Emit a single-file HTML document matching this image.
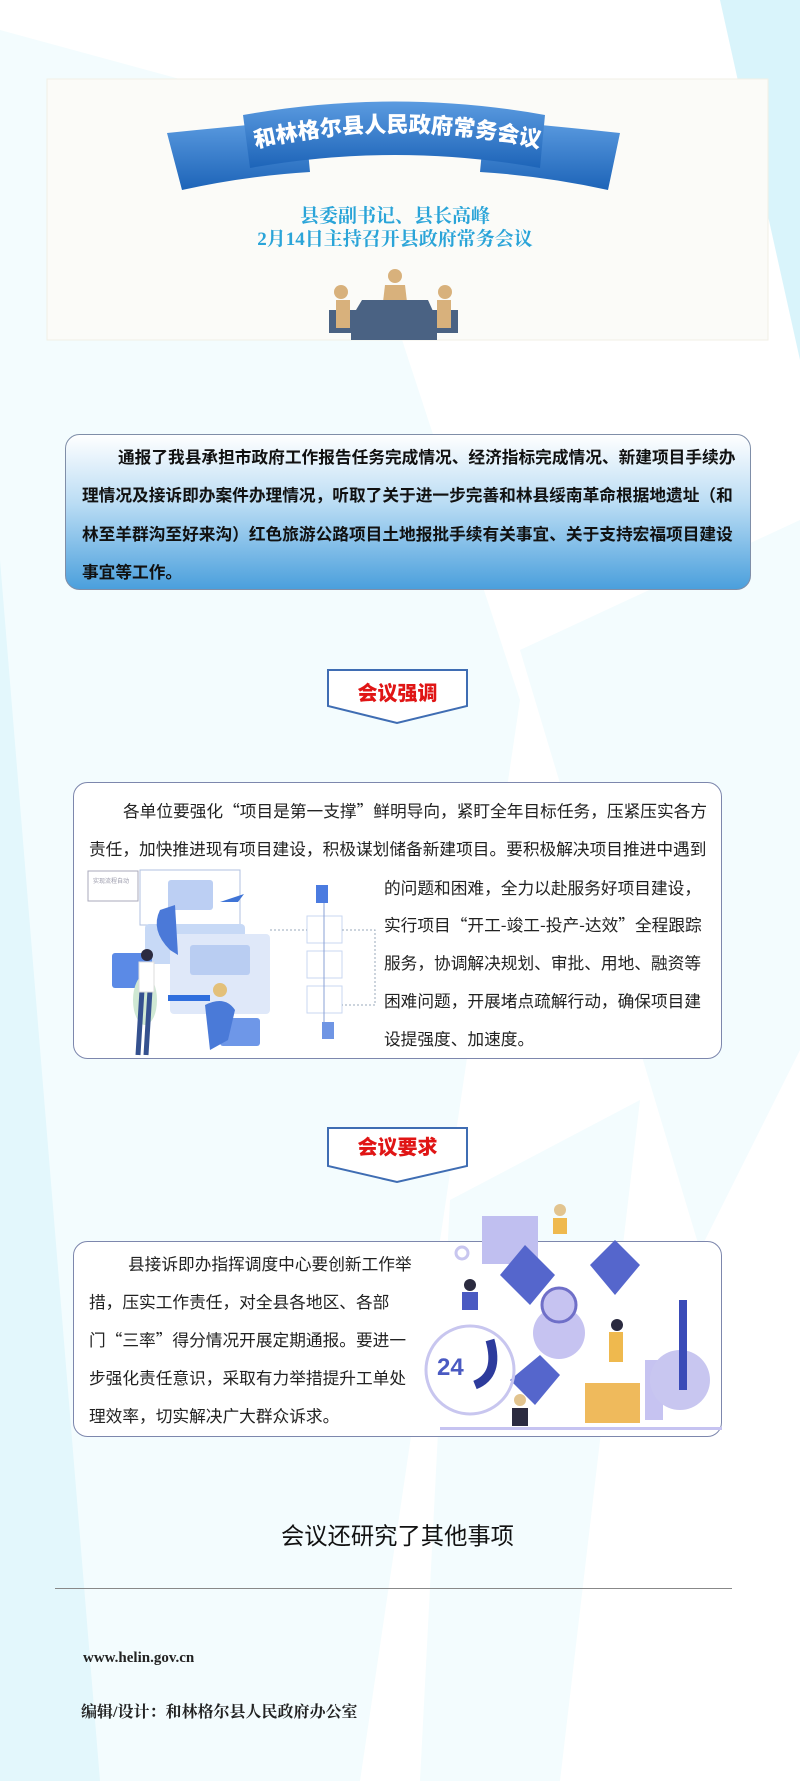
<!DOCTYPE html>
<html><head><meta charset="utf-8"><style>
*{margin:0;padding:0;box-sizing:border-box}
body{width:800px;height:1781px;position:relative;overflow:hidden;background:#fff;font-family:"Noto Sans CJK SC","Liberation Sans",sans-serif}
.a{position:absolute}
.t{position:absolute;font-size:16.7px;line-height:20px;white-space:nowrap;color:#222}
.b{font-weight:bold;color:#111}
.s{font-family:"Liberation Serif","Noto Serif CJK SC",serif}
</style></head><body>
<svg class="a" style="left:0;top:0" width="800" height="1781">
<polygon points="0,30 330,120 520,700 360,1781 0,1781" fill="#f3fcfe"/>
<polygon points="0,560 100,1781 0,1781" fill="#e3f7fc"/>
<polygon points="720,0 800,0 800,360" fill="#d9f4fb"/>
<polygon points="520,650 800,520 800,1050 700,1250" fill="#f3fcfe"/>
<polygon points="450,1200 640,1100 560,1781 420,1781" fill="#f3fcfe"/>
<rect x="47" y="79" width="721" height="261" fill="#fbfbf8" stroke="#f1efe6"/>
<defs><linearGradient id="rg" x1="0" y1="0" x2="0" y2="1"><stop offset="0" stop-color="#5b9be0"/><stop offset="1" stop-color="#1d64b8"/></linearGradient>
<linearGradient id="bg" x1="0" y1="0" x2="0" y2="1"><stop offset="0" stop-color="#ffffff"/><stop offset="0.45" stop-color="#b9dcf4"/><stop offset="1" stop-color="#4a9fdc"/></linearGradient></defs>
<path d="M167,133 Q235,126 305,120 L310,172 Q245,176 182,190 Z" fill="url(#rg)"/>
<path d="M620,133 Q555,126 485,120 L480,172 Q545,176 608,190 Z" fill="url(#rg)"/>
<path d="M243,115 Q395,88 545,115 L540,168 Q395,142 250,168 Z" fill="url(#rg)"/>
<path id="arc" d="M255,148 Q395,116 540,148" fill="none"/>
<text font-family="Noto Sans CJK SC,sans-serif" font-weight="900" font-size="22" fill="#fff"><textPath href="#arc" startOffset="50%" text-anchor="middle">和林格尔县人民政府常务会议</textPath></text>
<rect x="329" y="310" width="129" height="23" fill="#4a6283"/>
<circle cx="341" cy="292" r="7" fill="#d8b17c"/><rect x="336" y="300" width="14" height="28" fill="#d8b17c"/>
<circle cx="445" cy="292" r="7" fill="#d8b17c"/><rect x="437" y="300" width="14" height="28" fill="#d8b17c"/>
<circle cx="395" cy="276" r="7" fill="#d8b17c"/><polygon points="383,302 385,285 405,285 407,302" fill="#d8b17c"/>
<polygon points="362,300 428,300 437,320 350,320" fill="#4a6283"/>
<rect x="351" y="320" width="86" height="20" fill="#4a6283"/>
<rect x="65.5" y="434.5" width="685" height="155" rx="14" fill="url(#bg)" stroke="#7f8ea8"/>
<polygon points="328,670 467,670 467,706 397,723 328,706" fill="#fff" stroke="#3f6db3" stroke-width="2"/>
<polygon points="328,1128 467,1128 467,1166 397,1182 328,1166" fill="#fff" stroke="#3f6db3" stroke-width="2"/>
<rect x="73.5" y="782.5" width="648" height="276" rx="14" fill="#fff" stroke="#7d87ad"/>
<rect x="73.5" y="1241.5" width="648" height="195" rx="14" fill="#fff" stroke="#7d87ad"/>
<rect x="140" y="870" width="100" height="55" fill="#fff" stroke="#b0c2e0"/>
<rect x="145" y="924" width="100" height="40" rx="4" fill="#c7d9f6"/>
<rect x="170" y="934" width="100" height="80" rx="4" fill="#dfe8f9"/>
<rect x="190" y="945" width="60" height="30" rx="3" fill="#b9cdf2"/>
<rect x="168" y="995" width="42" height="6" fill="#2f6ede"/>
<rect x="168" y="880" width="45" height="30" rx="3" fill="#bccff3"/>
<rect x="112" y="953" width="40" height="35" rx="3" fill="#5b8ae6"/>
<rect x="220" y="1018" width="40" height="28" rx="3" fill="#6e97e8"/>
<rect x="88" y="871" width="50" height="30" fill="#fff" stroke="#aab"/>
<text x="93" y="883" font-size="6" fill="#99a">实现流程自动</text>
<path d="M170,950 Q150,930 160,910 L175,905 L178,955Z" fill="#4b79d8"/>
<ellipse cx="145" cy="1000" rx="12" ry="25" fill="#cfe8d3"/>
<path d="M142,990 L138,1055 M150,990 L146,1055" stroke="#35518f" stroke-width="5"/>
<circle cx="147" cy="955" r="6" fill="#2b2b40"/><rect x="139" y="962" width="15" height="30" fill="#fff" stroke="#ddd"/>
<path d="M205,1005 Q225,995 235,1010 L228,1040 L210,1050 Z" fill="#4a7ad8"/>
<circle cx="220" cy="990" r="7" fill="#e3c07a"/>
<rect x="322" y="1022" width="12" height="17" fill="#6f95e4"/>
<rect x="316" y="885" width="12" height="18" fill="#4b7be0"/>
<rect x="307" y="916" width="35" height="27" fill="#fff" stroke="#c9d7f2"/>
<rect x="307" y="951" width="35" height="27" fill="#fff" stroke="#c9d7f2"/>
<rect x="307" y="986" width="35" height="27" fill="#fff" stroke="#c9d7f2"/>
<path d="M324,903 V1022" stroke="#8aa2d6"/>
<path d="M270,930 H307 M342,930 H375 V1005 H342" stroke="#9ab" stroke-dasharray="2,2" fill="none"/>
<polygon points="220,902 244,894 238,902" fill="#3f74d6"/>
<rect x="482" y="1216" width="56" height="48" fill="#c0bff0"/>
<polygon points="525,1245 555,1275 530,1305 500,1275" fill="#5566cc"/>
<polygon points="615,1240 640,1265 615,1295 590,1265" fill="#5566cc"/>
<polygon points="540,1355 560,1375 535,1405 510,1380" fill="#5566cc"/>
<circle cx="559" cy="1333" r="26" fill="#c6c3f1"/>
<circle cx="559" cy="1305" r="17" fill="#c6c3f1" stroke="#6f6fc8" stroke-width="3"/>
<circle cx="470" cy="1370" r="44" fill="none" stroke="#c8c6ef" stroke-width="3"/>
<text x="437" y="1375" font-size="24" font-weight="bold" fill="#4a5ac2" font-family="Liberation Sans">24</text>
<path d="M475,1385 Q500,1375 490,1340" stroke="#2d3b9c" stroke-width="9" fill="none"/>
<rect x="585" y="1383" width="55" height="40" fill="#efba5c"/>
<rect x="645" y="1360" width="18" height="60" fill="#c6c3f1"/>
<circle cx="680" cy="1380" r="30" fill="#c8c6f0"/>
<path d="M683,1300 V1390" stroke="#3a4bb8" stroke-width="8"/>
<rect x="440" y="1427" width="282" height="3" fill="#c6c3f1"/>
<circle cx="560" cy="1210" r="6" fill="#e2c48f"/><rect x="553" y="1218" width="14" height="16" fill="#efb94e"/>
<circle cx="520" cy="1400" r="6" fill="#e2c48f"/><rect x="512" y="1408" width="16" height="18" fill="#2b2b40"/>
<circle cx="470" cy="1285" r="6" fill="#2b2b40"/><rect x="462" y="1292" width="16" height="18" fill="#4a5ac2"/>
<circle cx="617" cy="1325" r="6" fill="#2b2b40"/><rect x="609" y="1332" width="14" height="30" fill="#efb94e"/>
<circle cx="462" cy="1253" r="6" fill="none" stroke="#c8c6ef" stroke-width="3"/>
<rect x="55" y="1588" width="677" height="1" fill="#888"/>
</svg>
<div class="t s" style="left:0;width:790px;text-align:center;top:206px;font-size:19px;line-height:22px;color:#2aa4d8;font-weight:bold">县委副书记、县长高峰</div>
<div class="t s" style="left:0;width:790px;text-align:center;top:229px;font-size:19px;line-height:22px;color:#2aa4d8;font-weight:bold">2月14日主持召开县政府常务会议</div>

<div class="t b" style="left:118px;top:446px">通报了我县承担市政府工作报告任务完成情况、经济指标完成情况、新建项目手续办</div>
<div class="t b" style="left:82px;top:484px">理情况及接诉即办案件办理情况，听取了关于进一步完善和林县绥南革命根据地遗址（和</div>
<div class="t b" style="left:82px;top:523px">林至羊群沟至好来沟）红色旅游公路项目土地报批手续有关事宜、关于支持宏福项目建设</div>
<div class="t b" style="left:82px;top:561px">事宜等工作。</div>

<div class="t" style="left:328px;width:139px;text-align:center;top:680px;font-size:20px;line-height:24px;font-weight:900;color:#e01515">会议强调</div>
<div class="t" style="left:328px;width:139px;text-align:center;top:1134px;font-size:20px;line-height:24px;font-weight:900;color:#e01515">会议要求</div>

<div class="t" style="left:123px;top:800px">各单位要强化“项目是第一支撑”鲜明导向，紧盯全年目标任务，压紧压实各方</div>
<div class="t" style="left:89px;top:838px">责任，加快推进现有项目建设，积极谋划储备新建项目。要积极解决项目推进中遇到</div>
<div class="t" style="left:384px;top:877px">的问题和困难，全力以赴服务好项目建设，</div>
<div class="t" style="left:384px;top:914px">实行项目“开工-竣工-投产-达效”全程跟踪</div>
<div class="t" style="left:384px;top:952px">服务，协调解决规划、审批、用地、融资等</div>
<div class="t" style="left:384px;top:990px">困难问题，开展堵点疏解行动，确保项目建</div>
<div class="t" style="left:384px;top:1028px">设提强度、加速度。</div>

<div class="t" style="left:128px;top:1253px">县接诉即办指挥调度中心要创新工作举</div>
<div class="t" style="left:89px;top:1291px">措，压实工作责任，对全县各地区、各部</div>
<div class="t" style="left:89px;top:1329px">门“三率”得分情况开展定期通报。要进一</div>
<div class="t" style="left:89px;top:1367px">步强化责任意识，采取有力举措提升工单处</div>
<div class="t" style="left:89px;top:1405px">理效率，切实解决广大群众诉求。</div>

<div class="t" style="left:281px;top:1520px;font-size:23.3px;line-height:28px;color:#111">会议还研究了其他事项</div>
<div class="t s" style="left:83px;top:1648px;font-size:15px;font-weight:bold;color:#222">www.helin.gov.cn</div>
<div class="t s" style="left:81px;top:1703px;font-size:16px;font-weight:bold;color:#222">编辑/设计：和林格尔县人民政府办公室</div>
</body></html>
